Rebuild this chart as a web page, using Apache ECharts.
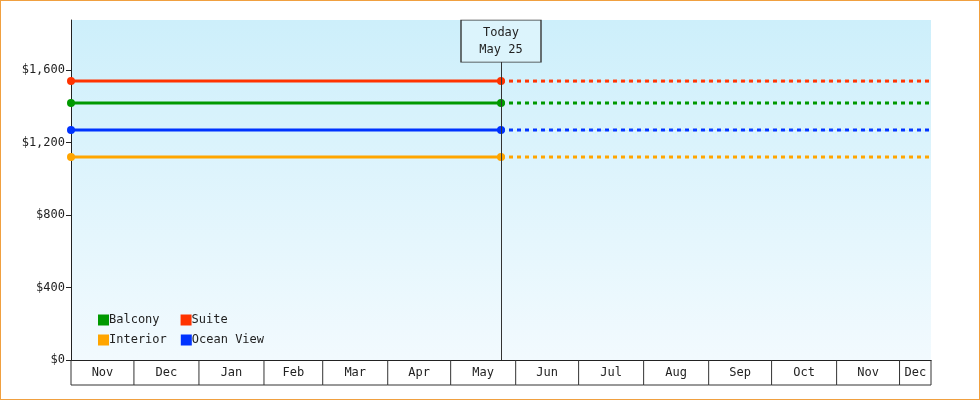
<!doctype html>
<html lang="en">
<head>
<meta charset="UTF-8">
<title>Cabin prices</title>
<style>
  html, body { margin: 0; padding: 0; background: #fff; }
  #chart { width: 978px; height: 398px; border: 1px solid #f0a040; }
</style>
</head>
<body>
<script src="https://cdn.jsdelivr.net/npm/echarts@6/dist/echarts.min.js"></script>
<div id="chart"></div>
<script>
  var startDate = '2024-11-01';
  var todayDate = '2025-05-25';
  var endDate = '2025-12-16';

  var seriesNames = ['Balcony', 'Suite', 'Interior', 'Ocean View'];
  var seriesColors = ['#009900', '#ff3300', '#ffa500', '#0033ff'];
  var prices = [1418, 1539, 1120, 1269];

  var yTicks = [0, 400, 800, 1200, 1600];

  var monthLabels = ['Nov', 'Dec', 'Jan', 'Feb', 'Mar', 'Apr', 'May', 'Jun', 'Jul', 'Aug', 'Sep', 'Oct', 'Nov', 'Dec'];
  var monthStarts = ['2024-11-01', '2024-12-01', '2025-01-01', '2025-02-01', '2025-03-01', '2025-04-01', '2025-05-01',
                     '2025-06-01', '2025-07-01', '2025-08-01', '2025-09-01', '2025-10-01', '2025-11-01', '2025-12-01'];
  var monthEnds = ['2024-12-01', '2025-01-01', '2025-02-01', '2025-03-01', '2025-04-01', '2025-05-01', '2025-06-01',
                   '2025-07-01', '2025-08-01', '2025-09-01', '2025-10-01', '2025-11-01', '2025-12-01', '2025-12-16'];

  var font = 'DejaVu Sans Mono';
  var chart = echarts.init(document.getElementById('chart'));

  var series = [];
  seriesNames.forEach(function (name, i) {
    series.push({
      name: name, type: 'line', z: 3,
      data: [[startDate, prices[i]], [todayDate, prices[i]]],
      symbol: 'circle', symbolSize: 8, showSymbol: true,
      lineStyle: { width: 3, color: seriesColors[i] },
      itemStyle: { color: seriesColors[i] }
    });
    series.push({
      name: name, type: 'line', z: 2,
      data: [[todayDate, prices[i]], [endDate, prices[i]]],
      symbol: 'none',
      lineStyle: { width: 3, type: [4, 4], color: seriesColors[i] },
      itemStyle: { color: seriesColors[i] }
    });
  });

  series.push({
    type: 'line', data: [], silent: true,
    markLine: {
      symbol: 'none', silent: true,
      lineStyle: { color: '#333', width: 1, type: 'solid' },
      label: { show: false },
      data: [{ xAxis: todayDate }]
    },
    markPoint: {
      symbol: 'rect', symbolSize: [80, 42], silent: true,
      itemStyle: { color: 'rgba(220,244,252,1)', borderColor: '#333', borderWidth: 1 },
      label: { show: true, position: 'inside', color: '#222', fontFamily: font, fontSize: 12, lineHeight: 17,
               formatter: 'Today\nMay 25' },
      data: [{ coord: [todayDate, 1760] }]
    }
  });

  series.push({
    type: 'custom', silent: true, clip: false,
    data: monthStarts.map(function (s, i) { return [s, monthEnds[i]]; }),
    encode: { x: [0, 1] },
    renderItem: function (params, api) {
      var x0 = api.coord([api.value(0), 0]);
      var x1 = api.coord([api.value(1), 0]);
      var y = x0[1];
      var kids = [
        { type: 'line', shape: { x1: x1[0], y1: y, x2: x1[0], y2: y + 25 }, style: { stroke: '#333', lineWidth: 1 } },
        { type: 'line', shape: { x1: x0[0], y1: y + 25, x2: x1[0], y2: y + 25 }, style: { stroke: '#333', lineWidth: 1 } },
        { type: 'text', x: (x0[0] + x1[0]) / 2, y: y + 13,
          style: { text: monthLabels[params.dataIndex], fill: '#222', font: '12px ' + font, align: 'center', verticalAlign: 'middle' } }
      ];
      if (params.dataIndex === 0) {
        kids.push({ type: 'line', shape: { x1: x0[0], y1: y, x2: x0[0], y2: y + 25 }, style: { stroke: '#333', lineWidth: 1 } });
      }
      return { type: 'group', children: kids };
    }
  });

  var legendText = { color: '#222', fontFamily: font, fontSize: 12, padding: [0, 0, 0, -5] };
  chart.setOption({
    animation: false,
    grid: {
      left: 70, right: 48, top: 19, bottom: 39, show: true, borderWidth: 0,
      backgroundColor: new echarts.graphic.LinearGradient(0, 0, 0, 1, [
        { offset: 0, color: '#cdeffb' }, { offset: 1, color: '#f2fafe' }
      ])
    },
    legend: [
      { data: ['Balcony', 'Suite'], left: 92, top: 308, itemWidth: 11, itemHeight: 11, itemGap: 21,
        icon: 'rect', textStyle: legendText },
      { data: ['Interior', 'Ocean View'], left: 92, top: 328, itemWidth: 11, itemHeight: 11, itemGap: 14,
        icon: 'rect', textStyle: legendText }
    ],
    xAxis: {
      type: 'time', min: startDate, max: endDate,
      axisLine: { show: true, lineStyle: { color: '#222' } },
      axisTick: { show: false }, axisLabel: { show: false }, splitLine: { show: false }
    },
    yAxis: {
      type: 'value', min: 0, max: 1876, interval: 400,
      axisLine: { show: true, lineStyle: { color: '#222' } },
      axisTick: { show: true, length: 5, lineStyle: { color: '#222' }, customValues: yTicks },
      splitLine: { show: false },
      axisLabel: {
        color: '#222', fontFamily: font, fontSize: 12, margin: 6,
        customValues: yTicks,
        formatter: function (v) { return '$' + v.toLocaleString('en-US'); }
      }
    },
    series: series
  });
</script>
</body>
</html>
